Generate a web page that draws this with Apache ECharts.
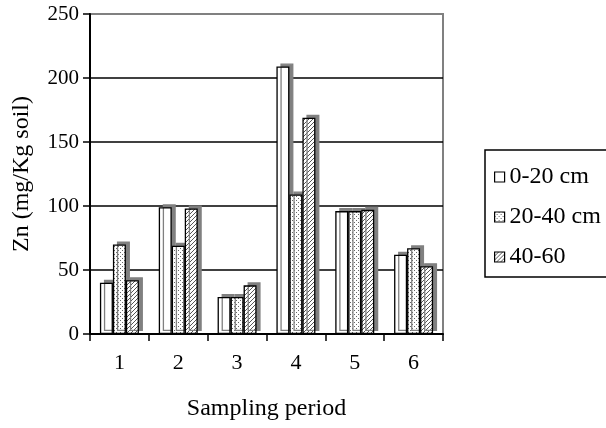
<!DOCTYPE html>
<html><head><meta charset="utf-8">
<script src="https://cdn.jsdelivr.net/npm/echarts@6/dist/echarts.min.js"></script>
<style>html,body{margin:0;padding:0;background:#fff}#c{width:606px;height:428px}</style>
</head><body><div id="c"></div>
<script>
var categories = ['1','2','3','4','5','6'];
var seriesNames = ['0-20 cm','20-40 cm','40-60'];
var depth0_20 = [40, 99, 29, 209, 96, 62];
var depth20_40 = [70, 69, 29, 109, 96, 67];
var depth40_60 = [42, 98, 38, 169, 97, 53];
var yTicks = [0, 50, 100, 150, 200, 250];

function makePattern(kind){
  var c = document.createElement('canvas');
  var g;
  if(kind==='dots'){
    c.width=4;c.height=4;g=c.getContext('2d');
    g.fillStyle='#fff';g.fillRect(0,0,4,4);
    g.fillStyle='#666';g.fillRect(0,0,1,1);g.fillRect(2,2,1,1);
  } else if(kind==='hatch'){
    c.width=4;c.height=4;g=c.getContext('2d');
    g.fillStyle='#fff';g.fillRect(0,0,4,4);
    g.strokeStyle='#555';g.lineWidth=1;
    g.beginPath();g.moveTo(-1,5);g.lineTo(5,-1);g.stroke();
    g.beginPath();g.moveTo(-1,1);g.lineTo(1,-1);g.stroke();
    g.beginPath();g.moveTo(3,5);g.lineTo(5,3);g.stroke();
  } else {
    c.width=2;c.height=2;g=c.getContext('2d');g.fillStyle='#fff';g.fillRect(0,0,2,2);
  }
  return {image:c, repeat:'repeat'};
}
var fills = [makePattern('plain'), makePattern('dots'), makePattern('hatch')];
var dataSets = [depth0_20, depth20_40, depth40_60];
var font = 'Liberation Serif';

var chart = echarts.init(document.getElementById('c'));
chart.setOption({
  animation:false,
  textStyle:{fontFamily:font},
  grid:{left:90, right:163, top:14, bottom:94, show:true, borderColor:'#808080', borderWidth:2, backgroundColor:'#fff'},
  legend:{
    orient:'vertical', left:485, top:150,
    padding:[15,10,8,9], itemGap:16,
    borderColor:'#000', borderWidth:1.5,
    itemWidth:10, itemHeight:10, icon:'rect',
    textStyle:{fontFamily:font, fontSize:24, color:'#000'},
    itemStyle:{shadowColor:'transparent', borderColor:'#000', borderWidth:1.2},
    data:seriesNames
  },
  xAxis:{
    type:'category', data:categories,
    name:'Sampling period', nameLocation:'middle', nameGap:63,
    nameTextStyle:{fontFamily:font, fontSize:24, color:'#000'},
    axisLine:{lineStyle:{color:'#000', width:2}},
    axisTick:{show:true, length:7, lineStyle:{color:'#000', width:1.5}},
    axisLabel:{fontFamily:font, fontSize:22, color:'#000', margin:18}
  },
  yAxis:{
    type:'value', min:yTicks[0], max:yTicks[yTicks.length-1], interval:50,
    name:'Zn (mg/Kg soil)', nameLocation:'middle', nameGap:56,
    nameTextStyle:{fontFamily:font, fontSize:24, color:'#000'},
    axisLine:{show:true, lineStyle:{color:'#000', width:2}},
    axisTick:{show:true, length:7, lineStyle:{color:'#000', width:1.5}},
    axisLabel:{fontFamily:font, fontSize:21, color:'#000', margin:11},
    splitLine:{show:true, lineStyle:{color:['#000','#000','#000','#000','#000','#808080'], width:1.5}}
  },
  series: seriesNames.map(function(n,i){
    return {
      name:n, type:'bar', data:dataSets[i], barWidth:13, barGap:'0%',
      itemStyle:{color:fills[i], borderColor:'#000', borderWidth:1.3,
        shadowColor:'#808080', shadowBlur:0, shadowOffsetX:4, shadowOffsetY:-3}
    };
  })
});
</script></body></html>
